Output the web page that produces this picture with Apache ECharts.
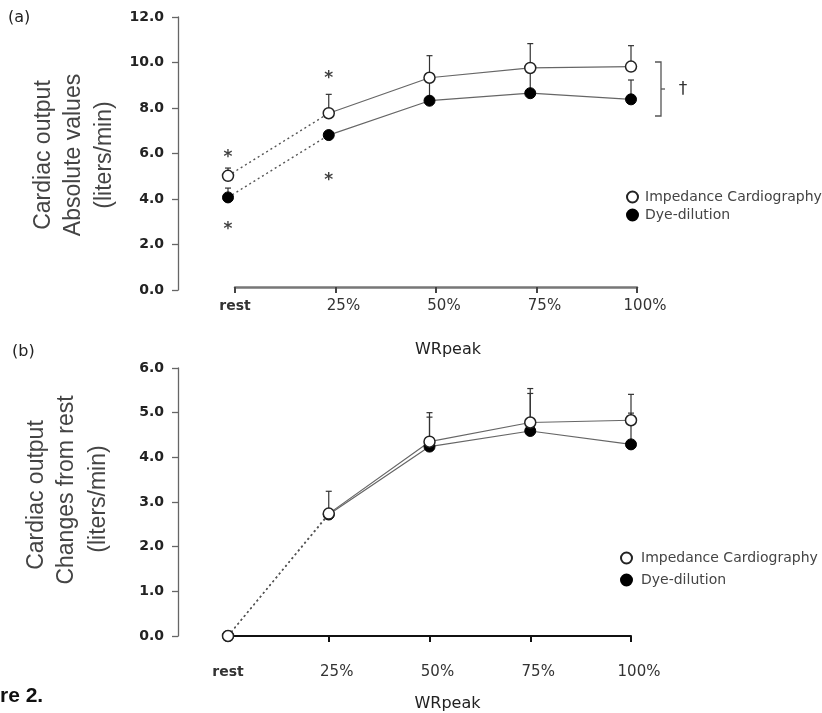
<!DOCTYPE html>
<html>
<head>
<meta charset="utf-8">
<script src="https://cdn.jsdelivr.net/npm/echarts@6/dist/echarts.min.js"></script>
<style>
  html, body { margin: 0; padding: 0; background: #fff; }
  #main { width: 822px; height: 713px; }
</style>
</head>
<body>
<div id="main"></div>
<script>
// categories (x axis)
var categories = ['rest', '25%', '50%', '75%', '100%'];

// panel (a): absolute values, liters/min
var impA = [5.02, 7.77, 9.33, 9.76, 9.82];
var dyeA = [4.07, 6.81, 8.32, 8.65, 8.38];
// upper end of error bars [index, top]
var impAErr = [[0, 5.36], [1, 8.6], [2, 10.3], [3, 10.83], [4, 10.74]];
var dyeAErr = [[0, 4.48], [2, 9.2], [3, 9.6], [4, 9.23]];
// significance asterisks [index, value]
var starsA = [[0, 5.98], [0, 2.81], [1, 9.45], [1, 4.97]];

// panel (b): changes from rest
var impB = [0, 2.74, 4.35, 4.78, 4.83];
var dyeB = [0, 2.72, 4.24, 4.59, 4.29];
var impBErr = [[1, 3.24], [2, 5.0], [3, 5.54], [4, 5.41]];
var dyeBErr = [[2, 4.9], [3, 5.43], [4, 4.99]];

var yTicksA = [0, 12, 2];
var yTicksB = [0, 6, 1];

var chart = echarts.init(document.getElementById('main'));

// dotted part: rest -> 25%, solid part: 25% -> 100%
function dottedPart(arr) {
  return arr.map(function (v, i) { return i <= 1 ? v : '-'; });
}
function solidPart(arr) {
  return arr.map(function (v, i) { return i >= 1 ? v : '-'; });
}
function withTop(means, tops) {
  return tops.map(function (t) { return [t[0], means[t[0]], t[1]]; });
}

function errorBar(params, api) {
  var p0 = api.coord([api.value(0), api.value(1)]);
  var p1 = api.coord([api.value(0), api.value(2)]);
  var st = { stroke: '#333', lineWidth: 1.2 };
  return {
    type: 'group',
    children: [
      { type: 'line', shape: { x1: p0[0], y1: p0[1], x2: p1[0], y2: p1[1] }, style: st },
      { type: 'line', shape: { x1: p1[0] - 3, y1: p1[1], x2: p1[0] + 3, y2: p1[1] }, style: st }
    ]
  };
}

var lineColor = '#666';
var markerSize = 11;

function panelSeries(idx, imp, dye, impErr, dyeErr) {
  var base = { xAxisIndex: idx, yAxisIndex: idx };
  var out = [];
  [imp, dye].forEach(function (arr) {
    out.push(Object.assign({
      type: 'line', data: dottedPart(arr), symbol: 'none', silent: true,
      lineStyle: { color: '#555', width: 1.4, type: [2, 3] }, z: 2
    }, base));
    out.push(Object.assign({
      type: 'line', data: solidPart(arr), symbol: 'none', silent: true,
      lineStyle: { color: lineColor, width: 1.2 }, z: 2
    }, base));
  });
  out.push(Object.assign({ type: 'custom', renderItem: errorBar, data: withTop(imp, impErr), z: 3 }, base));
  out.push(Object.assign({ type: 'custom', renderItem: errorBar, data: withTop(dye, dyeErr), z: 3 }, base));
  out.push(Object.assign({
    type: 'scatter', name: 'Dye-dilution', data: dye, symbolSize: markerSize,
    itemStyle: { color: '#000', borderColor: '#000', borderWidth: 1, opacity: 1 }, z: 4
  }, base));
  out.push(Object.assign({
    type: 'scatter', name: 'Impedance Cardiography', data: imp, symbolSize: markerSize,
    itemStyle: { color: '#fff', borderColor: '#222', borderWidth: 1.5, opacity: 1 }, z: 5
  }, base));
  return out;
}

var series = []
  .concat(panelSeries(0, impA, dyeA, impAErr, dyeAErr))
  .concat(panelSeries(2, impB, dyeB, impBErr, dyeBErr));

// asterisks
series.push({
  type: 'scatter', xAxisIndex: 0, yAxisIndex: 0, data: starsA, silent: true,
  symbol: 'circle', symbolSize: 1, itemStyle: { color: 'rgba(0,0,0,0)' },
  label: {
    show: true, position: 'inside', formatter: '*', color: '#111',
    fontSize: 17, fontFamily: 'DejaVu Sans', fontWeight: 'bold', offset: [0, 4]
  }, z: 6
});

var yLabel = { fontFamily: 'DejaVu Sans', fontWeight: 'bold', fontSize: 14, color: '#222', margin: 14 };
var xLabel = {
  fontFamily: 'DejaVu Sans', fontSize: 15, color: '#333', margin: 12,
  formatter: function (v) { return v === 'rest' ? '{b|rest}' : '{p|' + v + '}'; },
  rich: {
    b: { fontFamily: 'DejaVu Sans', fontWeight: 'bold', fontSize: 14, color: '#333' },
    p: { fontFamily: 'DejaVu Sans', fontSize: 15, color: '#333', padding: [0, 0, 0, 16] }
  }
};
var nameStyle = { fontFamily: 'DejaVu Sans', fontSize: 16, color: '#222' };

var option = {
  animation: false,
  backgroundColor: '#fff',
  grid: [
    { left: 228, top: 17, width: 403, height: 273 },   // (a) data
    { left: 235, top: 17, width: 402, height: 270 },   // (a) x axis display
    { left: 228, top: 368, width: 403, height: 268 }   // (b) data
  ],
  xAxis: [
    { gridIndex: 0, type: 'category', data: categories, boundaryGap: false, show: false },
    {
      gridIndex: 1, type: 'category', data: categories, boundaryGap: false,
      axisLine: { lineStyle: { color: '#777', width: 2.5 } },
      axisTick: { length: 6, lineStyle: { color: '#444', width: 2 } },
      axisLabel: xLabel,
      name: 'WRpeak', nameLocation: 'middle', nameGap: 55,
      nameTextStyle: Object.assign({ padding: [0, 0, 0, 24] }, nameStyle)
    },
    {
      gridIndex: 2, type: 'category', data: categories, boundaryGap: false, offset: 17,
      axisLine: { lineStyle: { color: '#111', width: 2 } },
      axisTick: { length: 6, lineStyle: { color: '#111', width: 2 } },
      axisLabel: xLabel,
      name: 'WRpeak', nameLocation: 'middle', nameGap: 43,
      nameTextStyle: Object.assign({ padding: [0, 0, 0, 36] }, nameStyle)
    }
  ],
  yAxis: [
    {
      gridIndex: 0, type: 'value', min: yTicksA[0], max: yTicksA[1], interval: yTicksA[2], offset: 50,
      axisLine: { show: true, lineStyle: { color: '#666', width: 1.3 } },
      axisTick: { show: true, length: 6, lineStyle: { color: '#666', width: 1.3 } },
      splitLine: { show: false },
      axisLabel: Object.assign({ formatter: function (v) { return v.toFixed(1); } }, yLabel)
    },
    { gridIndex: 1, type: 'value', show: false, splitLine: { show: false } },
    {
      gridIndex: 2, type: 'value', min: yTicksB[0], max: yTicksB[1], interval: yTicksB[2], offset: 50,
      axisLine: { show: true, lineStyle: { color: '#666', width: 1.3 } },
      axisTick: { show: true, length: 6, lineStyle: { color: '#666', width: 1.3 } },
      splitLine: { show: false },
      axisLabel: Object.assign({ formatter: function (v) { return v.toFixed(1); } }, yLabel)
    }
  ],
  legend: [
    {
      orient: 'vertical', left: 621, top: 185, itemWidth: 11, itemHeight: 11, itemGap: 4,
      data: ['Impedance Cardiography', 'Dye-dilution'],
      textStyle: { fontFamily: 'DejaVu Sans', fontSize: 14, color: '#444', padding: [0, 0, 0, 2] }
    },
    {
      orient: 'vertical', left: 615, top: 546, itemWidth: 11, itemHeight: 11, itemGap: 8,
      data: ['Impedance Cardiography', 'Dye-dilution'],
      textStyle: { fontFamily: 'DejaVu Sans', fontSize: 14, color: '#444', padding: [0, 0, 0, 4] }
    }
  ],
  graphic: [
    { type: 'text', left: 8, top: 10, style: { text: '(a)', font: '16px DejaVu Sans', fill: '#222' } },
    { type: 'text', left: 12, top: 344, style: { text: '(b)', font: '16px DejaVu Sans', fill: '#222' } },
    { type: 'text', left: 0, top: 686, style: { text: 're 2.', font: 'bold 21px Arial', fill: '#111' } },
    // y titles (a)
    { type: 'text', x: 44, y: 155, rotation: Math.PI / 2, style: { text: 'Cardiac output', font: '23px Arial', fill: '#444', align: 'center', verticalAlign: 'middle' } },
    { type: 'text', x: 74, y: 155, rotation: Math.PI / 2, style: { text: 'Absolute values', font: '23px Arial', fill: '#444', align: 'center', verticalAlign: 'middle' } },
    { type: 'text', x: 105, y: 155, rotation: Math.PI / 2, style: { text: '(liters/min)', font: '23px Arial', fill: '#444', align: 'center', verticalAlign: 'middle' } },
    // y titles (b)
    { type: 'text', x: 37, y: 495, rotation: Math.PI / 2, style: { text: 'Cardiac output', font: '23px Arial', fill: '#444', align: 'center', verticalAlign: 'middle' } },
    { type: 'text', x: 67, y: 490, rotation: Math.PI / 2, style: { text: 'Changes from rest', font: '23px Arial', fill: '#444', align: 'center', verticalAlign: 'middle' } },
    { type: 'text', x: 99, y: 499, rotation: Math.PI / 2, style: { text: '(liters/min)', font: '23px Arial', fill: '#444', align: 'center', verticalAlign: 'middle' } },
    // bracket with dagger
    { type: 'polyline', shape: { points: [[655, 62], [661, 62], [661, 116], [655, 116]] }, style: { stroke: '#555', lineWidth: 1.3, fill: null } },
    { type: 'line', shape: { x1: 661, y1: 89, x2: 665, y2: 89 }, style: { stroke: '#555', lineWidth: 1.3 } },
    { type: 'text', x: 683, y: 90, style: { text: '\u2020', font: '17px DejaVu Sans', fill: '#333', align: 'center', verticalAlign: 'middle' } }
  ],
  series: series
};

chart.setOption(option);
</script>
</body>
</html>
